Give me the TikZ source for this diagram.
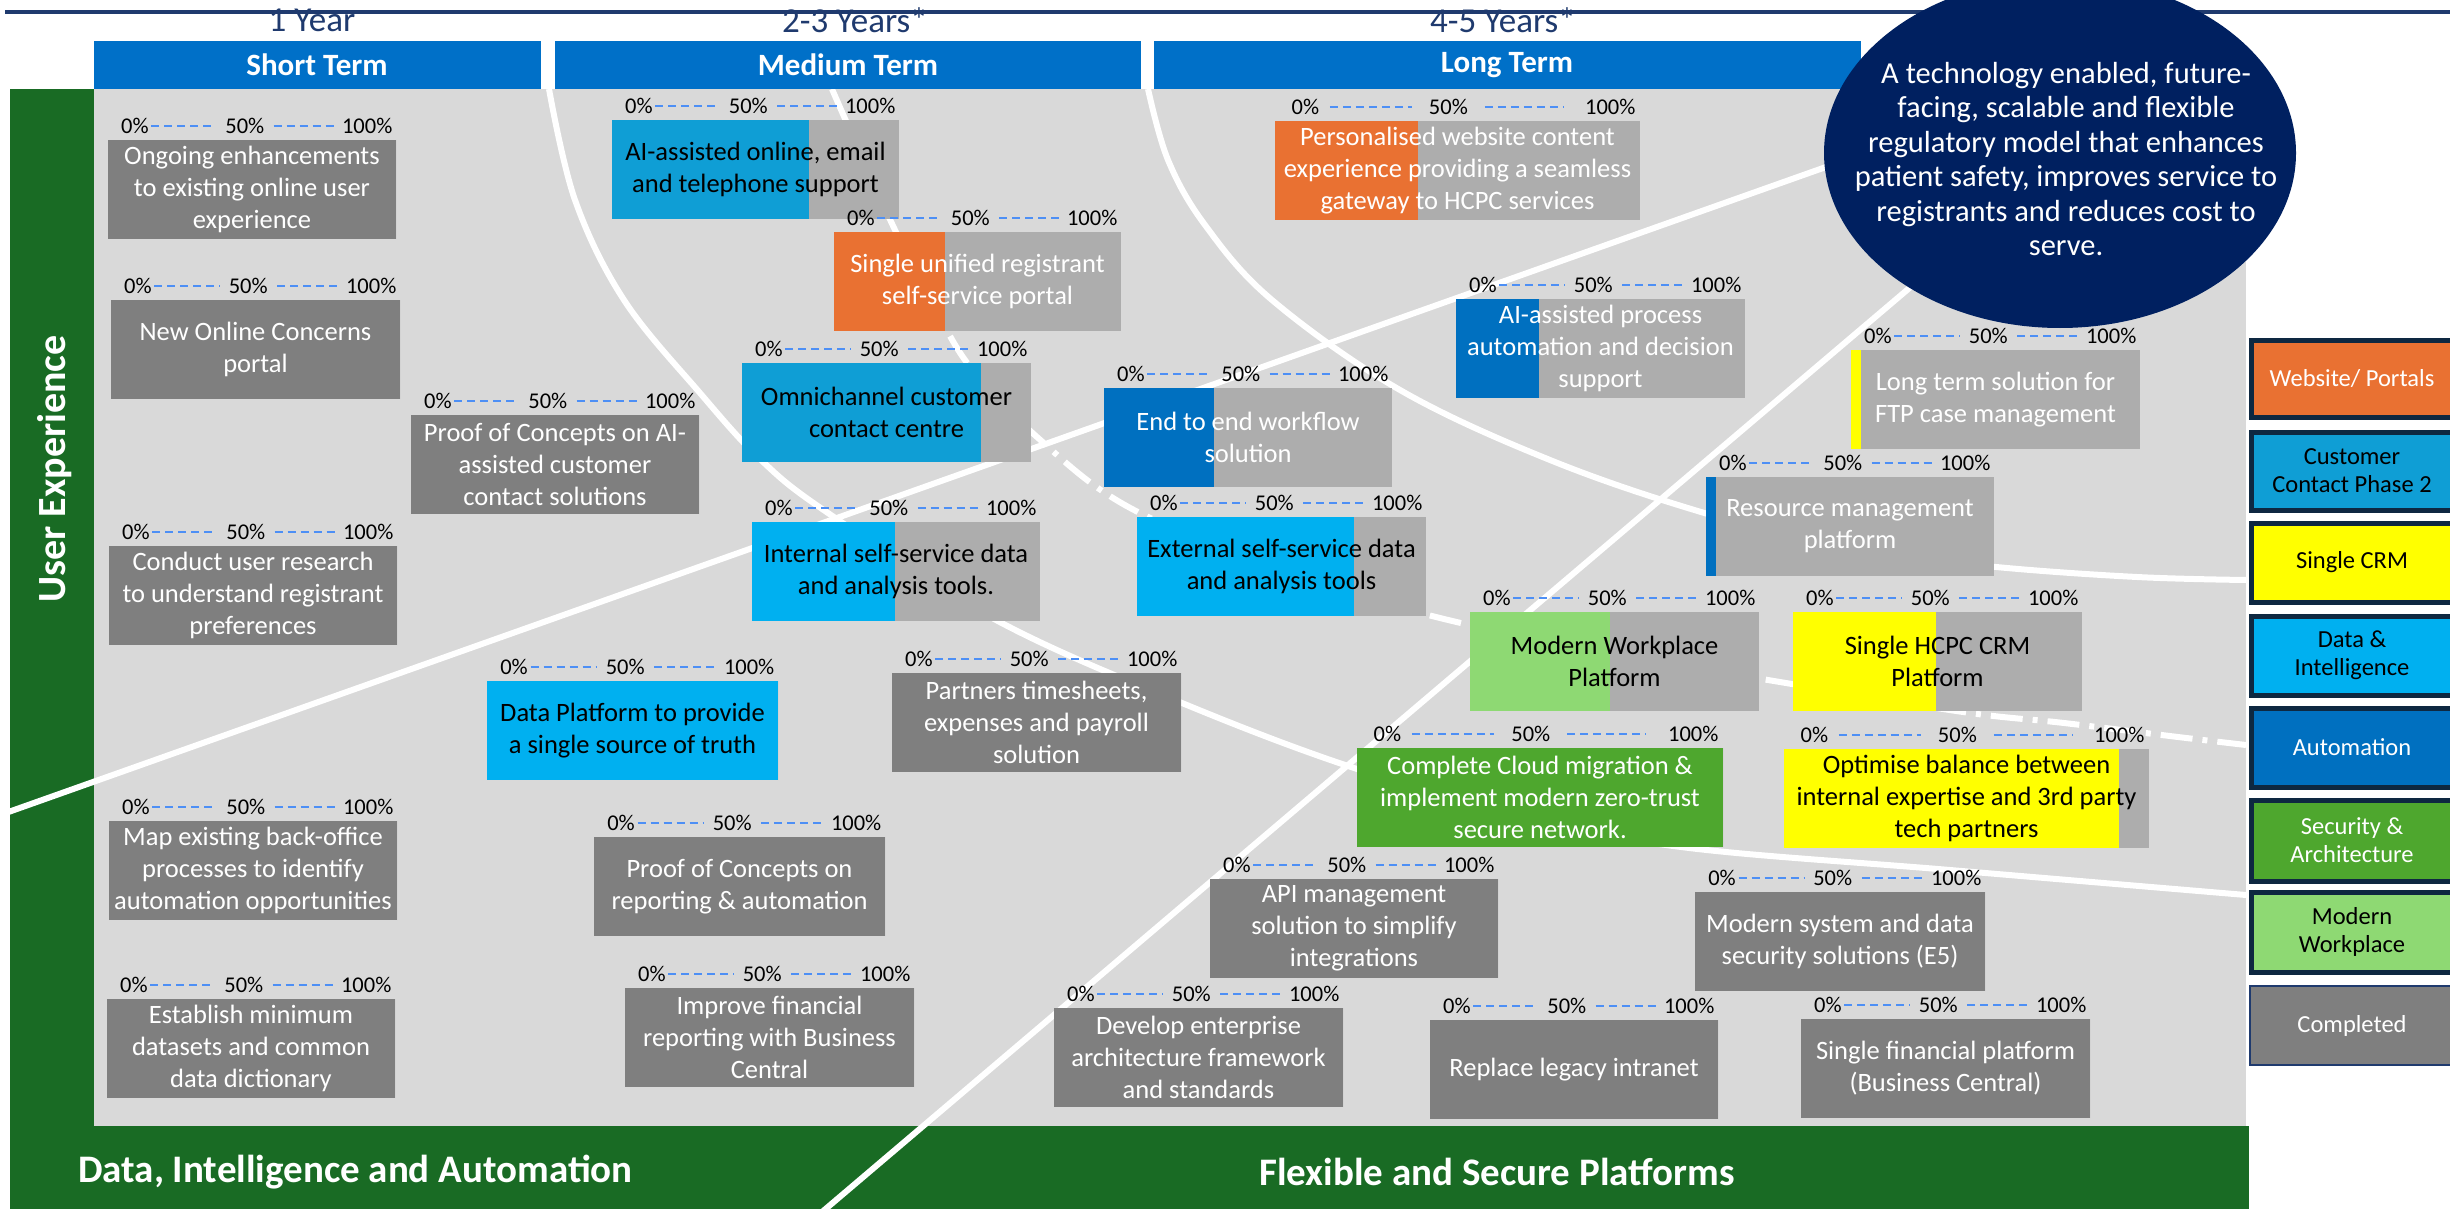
\documentclass[tikz,border=0pt]{standalone}
\usepackage{fontspec}
\setmainfont{Carlito}
\usetikzlibrary{shapes.geometric}
\definecolor{bggray}{HTML}{D9D9D9}
\definecolor{done}{HTML}{7F7F7F}
\definecolor{remain}{HTML}{ADADAD}
\definecolor{hdrblue}{HTML}{0070C8}
\definecolor{goalnavy}{HTML}{002060}
\definecolor{dkgreen}{HTML}{196B24}
\definecolor{corange}{HTML}{E97132}
\definecolor{cblue}{HTML}{0F9ED5}
\definecolor{ccyan}{HTML}{00B0F0}
\definecolor{cauto}{HTML}{0070C0}
\definecolor{csec}{HTML}{4EA72E}
\definecolor{cmw}{HTML}{8ED973}
\definecolor{cyel}{HTML}{FFFF00}
\definecolor{pctblue}{HTML}{4D8FF5}
\definecolor{lgborder}{HTML}{0E2841}
\definecolor{yearnavy}{HTML}{1F3A6E}
\tikzset{
  boxtext/.style={align=center,inner sep=0pt,font=\fontsize{26.5}{32}\selectfont},
  pct/.style={inner sep=0pt,text=black,font=\fontsize{22.5}{26}\selectfont},
  pctdash/.style={draw=pctblue,line width=2.5pt,dash pattern=on 8pt off 5pt},
  road/.style={draw=white,line width=6pt},
  hdr/.style={text=white,inner sep=0pt,font=\fontsize{31}{36}\selectfont\bfseries},
  yearlbl/.style={text=yearnavy,inner sep=0pt,font=\fontsize{35}{40}\selectfont},
  lgtext/.style={align=center,inner sep=0pt,font=\fontsize{24.5}{28}\selectfont},
  bartext/.style={text=white,inner sep=0pt,font=\fontsize{39}{44}\selectfont\bfseries}
}
% #1 name #2 left #3 top #4 right #5 progress end #6 fill #7 text colour #8 text
\newcommand{\rmbox}[8]{%
  \pgfmathsetmacro{\bw}{#4-#2}%
  \pgfmathsetmacro{\by}{#3-14}%
  \fill[#6] (#2,#3) rectangle (#5,{#3+99});
  \fill[remain] (#5,#3) rectangle (#4,{#3+99});
  \node[boxtext,text=#7] (#1) at ({(#2+#4)/2},{#3+49.5}) {#8};
  \node[pct,anchor=west] (#1-p0) at ({#2+0.045*\bw},\by) {0\%};
  \node[pct] (#1-p50) at ({#2+0.475*\bw},\by) {50\%};
  \node[pct,anchor=east] (#1-p100) at ({#4-0.012*\bw},\by) {100\%};
  \draw[pctdash] ({#2+0.15*\bw},\by) -- ({#2+0.375*\bw},\by);
  \draw[pctdash] ({#2+0.575*\bw},\by) -- ({#2+0.79*\bw},\by);
}
% #1 name #2 top #3 bottom #4 fill #5 text colour #6 text
\newcommand{\lgbox}[6]{%
  \draw[fill=#4,draw=lgborder,line width=5pt] (2251,#2) rectangle (2480,#3);
  \node[lgtext,text=#5] (#1) at (2352,{(#2+#3)/2}) {#6};
}
\begin{document}
\begin{tikzpicture}[x=1pt,y=-1pt]
\useasboundingbox (0,0) rectangle (2450,1209);
\clip (0,0) rectangle (2450,1209);
\fill[white] (0,0) rectangle (2450,1209);
% background areas
\fill[bggray] (94,89) rectangle (2246,1126);
\fill[dkgreen] (10,89) rectangle (94,1209);
\fill[dkgreen] (10,1126) rectangle (2249,1209);
% top line
\draw[yearnavy,line width=3.5pt] (5,12) -- (2450,12);
% white roads
\draw[road] plot[smooth,tension=0.6] coordinates {(549,89) (575,200) (624,300) (700,393) (761,460) (828,513) (996,620) (1182,703) (1354,768) (1520,815) (1681,847) (1950,870) (2246,895)};
\draw[road] plot[smooth,tension=0.6] coordinates {(1148,89) (1168,160) (1205,225) (1272,300) (1400,390) (1550,460) (1701,512) (1850,550) (1996,567) (2137,577) (2246,580)};
\draw[road] plot[smooth,tension=0.6] coordinates {(832,89) (850,130) (895,230) (925,285)};
\draw[road,dash pattern=on 32pt off 10pt on 5pt off 10pt] plot[smooth,tension=0.6] coordinates {(925,285) (965,360) (1037,437) (1134,510) (1300,575) (1440,618) (1620,655) (1780,682) (1963,712) (2064,723) (2178,737) (2246,745)};
\draw[road] (0,815) -- (1840,162);
\draw[road] (822,1212) -- (1940,262);
% short term
\rmbox{a1}{108}{140}{396}{396}{done}{white}{Ongoing enhancements\\to existing online user\\experience}
\rmbox{a2}{111}{300}{400}{400}{done}{white}{New Online Concerns\\portal}
\rmbox{a3}{109}{546}{397}{397}{done}{white}{Conduct user research\\to understand registrant\\preferences}
\rmbox{a4}{109}{821}{397}{397}{done}{white}{Map existing back-office\\processes to identify\\automation opportunities}
\rmbox{a5}{107}{999}{395}{395}{done}{white}{Establish minimum\\datasets and common\\data dictionary}
\rmbox{a6}{411}{415}{699}{699}{done}{white}{Proof of Concepts on AI-\\assisted customer\\contact solutions}
\rmbox{a7}{594}{837}{885}{885}{done}{white}{Proof of Concepts on\\reporting \& automation}
\rmbox{a8}{625}{988}{914}{914}{done}{white}{Improve financial\\reporting with Business\\Central}
\rmbox{a9}{892}{673}{1181}{1181}{done}{white}{Partners timesheets,\\expenses and payroll\\solution}
\rmbox{dp}{487}{681}{778}{778}{ccyan}{black}{Data Platform to provide\\a single source of truth}
% medium term
\rmbox{m1}{612}{120}{899}{809}{cblue}{black}{AI-assisted online, email\\and telephone support}
\rmbox{m2}{834}{232}{1121}{945}{corange}{white}{Single unified registrant\\self-service portal}
\rmbox{m3}{742}{363}{1031}{981}{cblue}{black}{Omnichannel customer\\contact centre}
\rmbox{m4}{752}{522}{1040}{895}{ccyan}{black}{Internal self-service data\\and analysis tools.}
\rmbox{m5}{1104}{388}{1392}{1214}{cauto}{white}{End to end workflow\\solution}
\rmbox{m6}{1137}{517}{1426}{1354}{ccyan}{black}{External self-service data\\and analysis tools}
% long term
\rmbox{l1}{1275}{121}{1640}{1418}{corange}{white}{Personalised website content\\experience providing a seamless\\gateway to HCPC services}
\rmbox{l2}{1456}{299}{1745}{1539}{cauto}{white}{AI-assisted process\\automation and decision\\support}
\rmbox{l3}{1851}{350}{2140}{1861}{cyel}{white}{Long term solution for\\FTP case management}
\rmbox{l4}{1706}{477}{1994}{1716}{cauto}{white}{Resource management\\platform}
\rmbox{l5}{1470}{612}{1759}{1610}{cmw}{black}{Modern Workplace\\Platform}
\rmbox{l6}{1793}{612}{2082}{1936}{cyel}{black}{Single HCPC CRM\\Platform}
\rmbox{l7}{1357}{748}{1723}{1723}{csec}{white}{Complete Cloud migration \&\\implement modern zero-trust\\secure network.}
\rmbox{l8}{1784}{749}{2149}{2119}{cyel}{black}{Optimise balance between\\internal expertise and 3rd party\\tech partners}
\rmbox{l9}{1210}{879}{1498}{1498}{done}{white}{API management\\solution to simplify\\integrations}
\rmbox{l10}{1695}{892}{1985}{1985}{done}{white}{Modern system and data\\security solutions (E5)}
\rmbox{l11}{1054}{1008}{1343}{1343}{done}{white}{Develop enterprise\\architecture framework\\and standards}
\rmbox{l12}{1430}{1020}{1718}{1718}{done}{white}{Replace legacy intranet}
\rmbox{l13}{1801}{1019}{2090}{2090}{done}{white}{Single financial platform\\(Business Central)}
% headers
\fill[hdrblue] (94,41) rectangle (541,89);
\fill[hdrblue] (555,41) rectangle (1141,89);
\fill[hdrblue] (1154,41) rectangle (1861,89);
\node[hdr] (hshort) at (317,65) {Short Term};
\node[hdr] (hmed) at (848,65) {Medium Term};
\node[hdr] (hlong) at (1507,65) {Long Term};
\node[yearlbl] (y1) at (312,20) {1 Year};
\node[yearlbl] (y2) at (855,20) {2-3 Years*};
\node[yearlbl] (y3) at (1503,20) {4-5 Years*};
% goal ellipse
\node[ellipse,fill=goalnavy,minimum width=472pt,minimum height=350pt,inner sep=0pt] (goal) at (2060,153) {};
\node[align=center,text=white,inner sep=0pt,font=\fontsize{30.5}{34.5}\selectfont] (goaltext) at (2066,159) {A technology enabled, future-\\facing, scalable and flexible\\regulatory model that enhances\\patient safety, improves service to\\registrants and reduces cost to\\serve.};
% side and bottom labels
\node[bartext,rotate=90,font=\fontsize{40}{44}\selectfont\bfseries] (ux) at (55,469) {User Experience};
\node[bartext,anchor=west] (dia) at (78,1172) {Data, Intelligence and Automation};
\node[bartext] (fsp) at (1497,1172) {Flexible and Secure Platforms};
% legend
\lgbox{lg1}{340}{417}{corange}{white}{Website/ Portals}
\lgbox{lg2}{432}{510}{cblue}{black}{Customer\\Contact Phase 2}
\lgbox{lg3}{523}{602}{cyel}{black}{Single CRM}
\lgbox{lg4}{616}{695}{ccyan}{black}{Data \&\\Intelligence}
\lgbox{lg5}{708}{787}{cauto}{white}{Automation}
\lgbox{lg6}{800}{881}{csec}{white}{Security \&\\Architecture}
\lgbox{lg7}{892}{972}{cmw}{black}{Modern\\Workplace}
\draw[fill=done,draw=yearnavy,line width=2.5pt] (2250,986) rectangle (2480,1065);
\node[lgtext,text=white] (lg8) at (2352,1025.5) {Completed};
\end{tikzpicture}
\end{document}
